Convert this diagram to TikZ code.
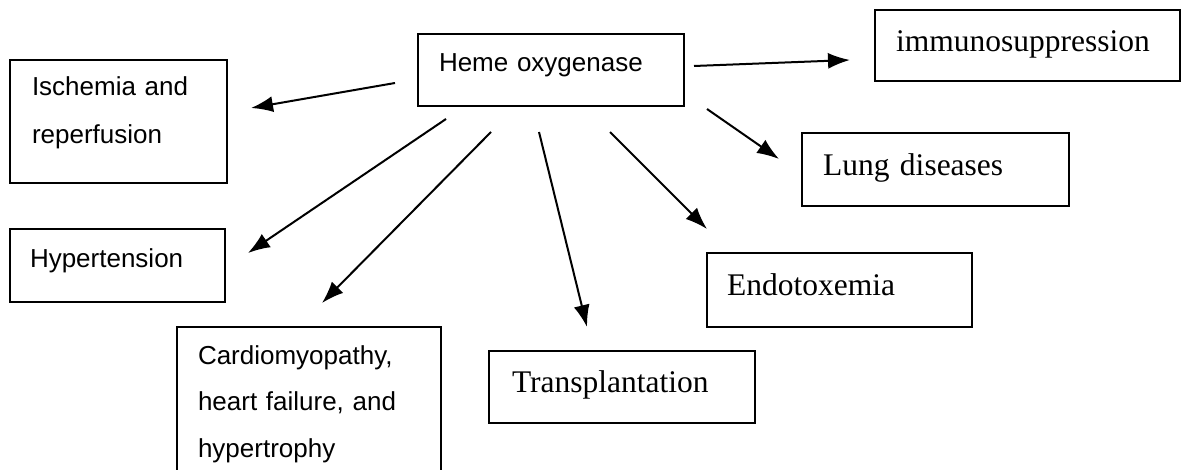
\documentclass[tikz,border=0pt]{standalone}
\usepackage{fontspec}
\setmainfont{Liberation Serif}
\setsansfont{Liberation Sans}
\usetikzlibrary{arrows.meta}

\tikzset{
  box/.style={draw, line width=2pt, rectangle, inner ysep=0pt, outer sep=0pt,
    align=left, anchor=north west},
  sanstext/.style={font=\sffamily\fontsize{26}{48}\selectfont},
  seriftext/.style={font=\fontsize{31.5}{38}\selectfont},
  link/.style={->, >={Latex[length=22pt,width=16pt]}, line width=2pt},
}

\begin{document}
\begin{tikzpicture}[x=1pt,y=-1pt]

\useasboundingbox (0,0) rectangle (1182,470);

% boxes
\node[box, sanstext, inner xsep=21pt, text width=224pt, text height=38pt, text depth=34pt]
  (heme) at (418,34) {Heme oxygenase};
\node[box, sanstext, inner xsep=22pt, text width=173pt, text height=36pt, text depth=87pt]
  (ischemia) at (10,60) {Ischemia and\\reperfusion};
\node[box, sanstext, inner xsep=20pt, text width=175pt, text height=38pt, text depth=35pt]
  (hyper) at (10,229) {Hypertension};
\node[box, sanstext, font=\sffamily\fontsize{26}{46.5}\selectfont,
  inner xsep=21pt, text width=222pt, text height=37pt, text depth=136pt]
  (cardio) at (177,327) {Cardiomyopathy,\\heart failure, and\\hypertrophy};
\node[box, seriftext, inner xsep=23pt, text width=220pt, text height=41pt, text depth=31pt]
  (transpl) at (489,351) {Transplantation};
\node[box, seriftext, inner xsep=20pt, text width=225pt, text height=42pt, text depth=32pt]
  (endotox) at (707,253) {Endotoxemia};
\node[box, seriftext, inner xsep=21pt, text width=225pt, text height=43pt, text depth=30pt]
  (lung) at (802,133) {Lung diseases};
\node[box, seriftext, inner xsep=21pt, text width=263pt, text height=42pt, text depth=29pt]
  (immuno) at (875,10) {immunosuppression};

% arrow ends
\coordinate (immuno-from) at (694,66);   \coordinate (immuno-to) at (850,60);
\coordinate (lung-from) at (707,109);    \coordinate (lung-to) at (779,159);
\coordinate (endotox-from) at (610,132); \coordinate (endotox-to) at (707,229);
\coordinate (transpl-from) at (539,132); \coordinate (transpl-to) at (587,327);
\coordinate (cardio-from) at (491,132);  \coordinate (cardio-to) at (322,303);
\coordinate (hyper-from) at (446,119);   \coordinate (hyper-to) at (248,253);
\coordinate (ischemia-from) at (395,83); \coordinate (ischemia-to) at (251,108);

% arrows
\draw[link] (immuno-from) -- (immuno-to);
\draw[link] (lung-from) -- (lung-to);
\draw[link] (endotox-from) -- (endotox-to);
\draw[link] (transpl-from) -- (transpl-to);
\draw[link] (cardio-from) -- (cardio-to);
\draw[link] (hyper-from) -- (hyper-to);
\draw[link] (ischemia-from) -- (ischemia-to);

\end{tikzpicture}
\end{document}
